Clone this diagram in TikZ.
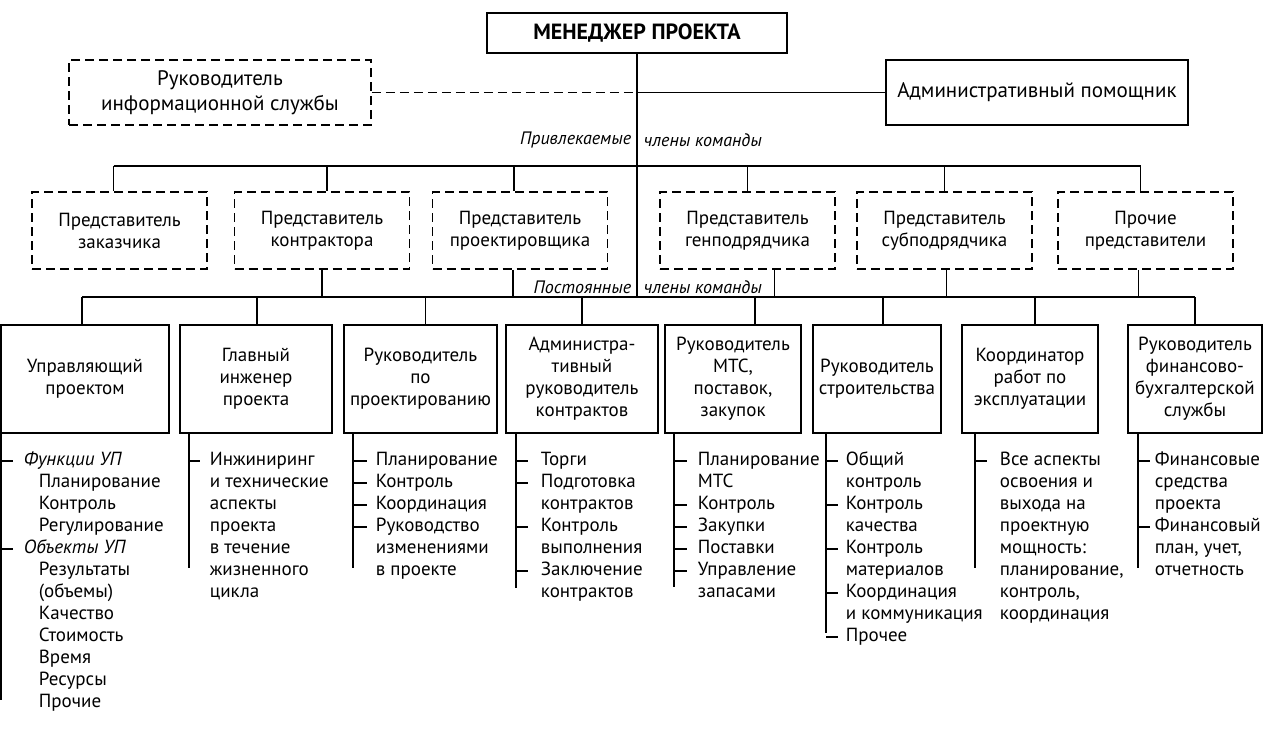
\documentclass[tikz,border=0pt]{standalone}
\usepackage{fontspec}
\setmainfont{PT Sans}
\usepackage{tikz}

\begin{document}
\begin{tikzpicture}[x=1pt, y=-1pt, line width=1.8pt,
  headbox/.style={rectangle, draw, inner sep=0pt, minimum width=300pt, minimum height=40pt,
    font=\fontsize{22}{24}\selectfont\bfseries},
  sidebox/.style={rectangle, draw, inner sep=0pt, align=center, minimum width=302pt, minimum height=65pt,
    font=\fontsize{21}{25}\selectfont},
  guestbox/.style={rectangle, draw, dash pattern=on 9pt off 5pt, inner sep=0pt, align=center,
    minimum width=175pt, minimum height=77pt, font=\fontsize{19}{22}\selectfont},
  staffbox/.style={rectangle, draw, inner sep=0pt, align=center, minimum height=108pt,
    font=\fontsize{19}{22}\selectfont},
  item/.style={anchor=west, inner sep=0pt, text height=14pt, text depth=5pt,
    font=\fontsize{19}{22}\selectfont},
  tag/.style={inner sep=0pt, font=\fontsize{18}{22}\selectfont\itshape}
]
  \useasboundingbox (0,0) rectangle (1263,731);

  % top level
  \node[headbox] (mgr) at (637,33) {МЕНЕДЖЕР ПРОЕКТА};
  \node[sidebox, dash pattern=on 9pt off 5pt] (infochief) at (220,92.5) {Руководитель\\информационной службы};
  \node[sidebox] (assistant) at (1037,92.5) {Административный помощник};

  \coordinate (fork) at (637,92.5);
  \coordinate (busA) at (637,166);
  \coordinate (busB) at (637,297);
  \draw (mgr.south) -- (busB);
  \draw[dash pattern=on 9pt off 5pt] (infochief.east) -- (fork);
  \draw (fork) -- (assistant.west);

  \node[tag, anchor=east] (guestL) at (632,140) {Привлекаемые};
  \node[tag, anchor=west] (guestR) at (643,140) {члены команды};
  \node[tag, anchor=east] (staffL) at (632,287) {Постоянные};
  \node[tag, anchor=west] (staffR) at (643,287) {члены команды};

  % invited members
  \node[guestbox] (g1) at (119.5,230.5) {Представитель\\заказчика};
  \node[guestbox] (g2) at (322,230.5) {Представитель\\контрактора};
  \node[guestbox] (g3) at (520,230.5) {Представитель\\проектировщика};
  \node[guestbox] (g4) at (747.5,230.5) {Представитель\\генподрядчика};
  \node[guestbox] (g5) at (944.5,230.5) {Представитель\\субподрядчика};
  \node[guestbox] (g6) at (1145.5,230.5) {Прочие\\представители};

  \draw ([xshift=-6pt]g1.north |- busA) -- ([xshift=-5pt]g6.north |- busA);
  \foreach \g/\dx in {1/-6,2/5,3/-6,4/0,5/0,6/-5}
    \draw ([xshift=\dx pt]g\g.north) -- ([xshift=\dx pt]g\g.north |- busA);
  \foreach \g/\dx in {2/0,3/-7,4/27,5/2,6/-7}
    \draw ([xshift=\dx pt]g\g.south) -- ([xshift=\dx pt]g\g.south |- busB);

  % permanent members
  \node[staffbox, minimum width=168pt] (s1) at (85,379) {Управляющий\\проектом};
  \node[staffbox, minimum width=152pt] (s2) at (256,379) {Главный\\инженер\\проекта};
  \node[staffbox, minimum width=153pt] (s3) at (420.5,379) {Руководитель\\по\\проектированию};
  \node[staffbox, minimum width=152pt] (s4) at (582,379) {Администра-\\тивный\\руководитель\\контрактов};
  \node[staffbox, minimum width=136pt] (s5) at (733,379) {Руководитель\\МТС,\\поставок,\\закупок};
  \node[staffbox, minimum width=128pt] (s6) at (877,379) {Руководитель\\строительства};
  \node[staffbox, minimum width=136pt] (s7) at (1030,379) {Координатор\\работ по\\эксплуатации};
  \node[staffbox, minimum width=134pt] (s8) at (1195,379) {Руководитель\\финансово-\\бухгалтерской\\службы};

  \draw ([xshift=-3pt]s1.north |- busB) -- (s8.north |- busB);
  \foreach \s/\dx in {1/-3,2/1,3/5,4/0,5/22,6/6,7/5,8/0}
    \draw ([xshift=\dx pt]s\s.north) -- ([xshift=\dx pt]s\s.north |- busB);

  % duty lists
  \node[item, font=\fontsize{19}{22}\selectfont\itshape] (l1-1) at (23,461) {Функции УП};
  \foreach \t [count=\i from 2] in {Планирование, Контроль, Регулирование}
    \node[item] (l1-\i) at (38,{439+22*\i}) {\t};
  \node[item, font=\fontsize{19}{22}\selectfont\itshape] (l1-5) at (23,549) {Объекты УП};
  \foreach \t [count=\i from 6] in {Результаты, {(объемы)}, Качество, Стоимость, Время, Ресурсы, Прочие}
    \node[item] (l1-\i) at (38,{439+22*\i}) {\t};

  \foreach \t [count=\i] in {Инжиниринг, и технические, аспекты, проекта, в течение, жизненного, цикла}
    \node[item] (l2-\i) at (209,{439+22*\i}) {\t};
  \foreach \t [count=\i] in {Планирование, Контроль, Координация, Руководство, изменениями, в проекте}
    \node[item] (l3-\i) at (375,{439+22*\i}) {\t};
  \foreach \t [count=\i] in {Торги, Подготовка, контрактов, Контроль, выполнения, Заключение, контрактов}
    \node[item] (l4-\i) at (540,{439+22*\i}) {\t};
  \foreach \t [count=\i] in {Планирование, МТС, Контроль, Закупки, Поставки, Управление, запасами}
    \node[item] (l5-\i) at (697,{439+22*\i}) {\t};
  \foreach \t [count=\i] in {Общий, контроль, Контроль, качества, Контроль, материалов, Координация, и коммуникация, Прочее}
    \node[item] (l6-\i) at (845,{439+22*\i}) {\t};
  \foreach \t [count=\i] in {Все аспекты, освоения и, выхода на, проектную, мощность:, {планирование,}, {контроль,}, координация}
    \node[item] (l7-\i) at (999,{439+22*\i}) {\t};
  \foreach \t [count=\i] in {Финансовые, средства, проекта, Финансовый, {план, учет,}, отчетность}
    \node[item] (l8-\i) at (1154,{439+22*\i}) {\t};

  \foreach \k/\x/\y in {1/1/700, 2/189/568, 3/353/568, 4/516/588, 5/674/587, 6/826/633, 7/975/568, 8/1138/568} {
    \coordinate (e\k) at (\x,\y);
    \draw (e\k |- s\k.south) -- (e\k);
  }
  \foreach \k/\gap/\ticks in {1/10/{1,5}, 2/9/{1}, 3/8/{1,2,3,4}, 4/12/{1,2,4,6}, 5/10/{1,3,4,5,6},
      6/7/{1,3,5,7,9}, 7/12/{1}, 8/4/{1,4}}
    \foreach \i in \ticks
      \draw (e\k |- l\k-\i.west) -- ([xshift=-\gap pt]l\k-\i.west);
\end{tikzpicture}
\end{document}
